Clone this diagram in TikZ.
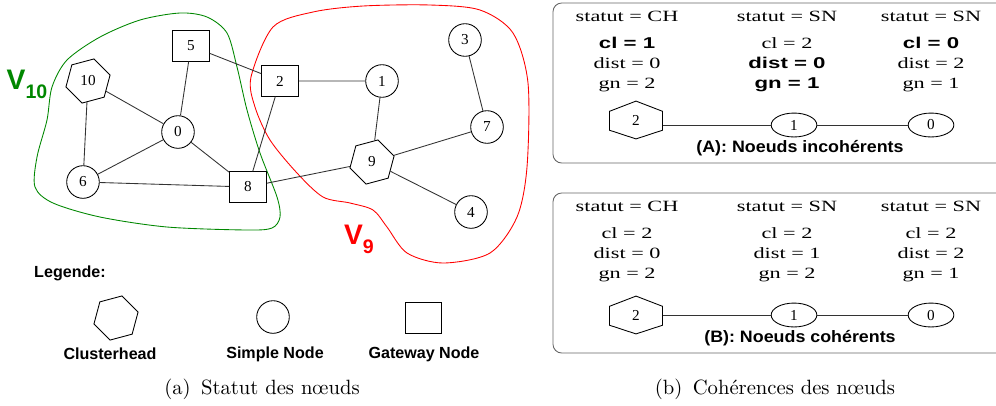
\documentclass[tikz,border=0pt]{standalone}
\usepackage{fontspec}
\newfontfamily\timesfont{Liberation Serif}
\newfontfamily\arialfont{Liberation Sans}
\usetikzlibrary{shapes.geometric,calc}

\definecolor{vgreen}{RGB}{0,135,0}

\tikzset{
  lbl/.style={font=\timesfont\fontsize{7}{8}\selectfont},
  simple/.style={circle,draw,fill=white,minimum size=15pt,inner sep=0pt,lbl},
  gateway/.style={rectangle,draw,fill=white,minimum width=17pt,minimum height=14pt,inner sep=0pt,lbl},
  clusterhead/.style={regular polygon,regular polygon sides=6,shape border rotate=15,draw,fill=white,minimum size=21pt,inner sep=0pt,lbl},
  link/.style={draw=black!80},
  panel/.style={draw=black!60,rounded corners=4pt},
  val/.style={anchor=base,font=\timesfont\fontsize{7.2}{9}\selectfont},
  valb/.style={anchor=base,font=\arialfont\bfseries\fontsize{7.2}{9}\selectfont},
  elnode/.style={ellipse,draw,minimum width=21pt,minimum height=11pt,inner sep=0pt,lbl},
  hexbox/.style={minimum width=24pt,minimum height=17pt,inner sep=0pt,lbl},
  legendtxt/.style={font=\arialfont\bfseries\fontsize{7.4}{9}\selectfont},
  paneltitle/.style={font=\arialfont\bfseries\fontsize{7.6}{9}\selectfont},
  caption/.style={font=\fontsize{9.5}{11}\selectfont}
}

% panel texts are stretched sideways
\newcommand\wide[1]{\scalebox{1.42}[1]{#1}}

% stretched hexagon drawn round a box node
\newcommand\flathex[1]{%
  \draw (#1.north) -- ($(#1.north east)!0.27!(#1.south east)$)
    -- ($(#1.north east)!0.77!(#1.south east)$) -- (#1.south)
    -- ($(#1.north west)!0.77!(#1.south west)$)
    -- ($(#1.north west)!0.27!(#1.south west)$) -- cycle;}

\begin{document}
\begin{tikzpicture}[x=0.46pt,y=-0.46pt]
  \useasboundingbox (0,0) rectangle (996,405);

  % clusters
  \draw[vgreen] plot[smooth cycle] coordinates {(180,13) (207,17) (227,33) (237,67)
    (247,110) (260,153) (277,197) (280,217) (272,228) (247,230) (167,227) (100,217)
    (53,203) (35,187) (37,157) (47,120) (52,87) (67,60) (100,37) (140,20)};
  \draw[red] plot[smooth cycle] coordinates {(251,77) (273,27) (313,12) (363,6)
    (430,5) (480,10) (513,33) (528,83) (527,167) (517,217) (490,253) (443,263)
    (407,253) (387,227) (373,210) (350,203) (323,197) (297,173) (270,140) (255,107)};
  \node[text=vgreen,font=\arialfont\bfseries] (v10) at (27,84)
    {\fontsize{13}{14}\selectfont V\raisebox{-0.6ex}{\fontsize{9}{10}\selectfont 10}};
  \node[text=red,font=\arialfont\bfseries] (v9) at (359,239)
    {\fontsize{13}{14}\selectfont V\raisebox{-0.6ex}{\fontsize{9}{10}\selectfont 9}};

  % graph
  \node[simple] (n0) at (178,132) {0};
  \node[simple] (n1) at (382,81) {1};
  \node[gateway] (n2) at (280,81) {2};
  \node[simple] (n3) at (465,40) {3};
  \node[simple] (n4) at (471,212) {4};
  \node[gateway] (n5) at (191,46) {5};
  \node[simple] (n6) at (83,182) {6};
  \node[simple] (n7) at (487,127) {7};
  \node[gateway] (n8) at (248,187) {8};
  \node[clusterhead] (n9) at (372,162) {9};
  \node[clusterhead] (n10) at (88,81) {10};
  \draw[link] (n5) -- (n0) (n5) -- (n2) (n10) -- (n0) (n10) -- (n6)
    (n0) -- (n6) (n0) -- (n8) (n6) -- (n8) (n2) -- (n8) (n2) -- (n1)
    (n8) -- (n9) (n1) -- (n9) (n9) -- (n7) (n9) -- (n4) (n3) -- (n7);

  % legend
  \node[legendtxt] (leg) at (70,273) {Legende:};
  \node[clusterhead] (lgch) at (116,318) {};
  \node[simple] (lgsn) at (273,317) {};
  \node[gateway,minimum width=16.5pt] (lggw) at (423,318) {};
  \node[legendtxt] (lgcht) at (110,354) {Clusterhead};
  \node[legendtxt] (lgsnt) at (275,354) {Simple Node};
  \node[legendtxt] (lggwt) at (424,354) {Gateway Node};
  \node[caption] (capa) at (262,389) {(a)\enspace Statut des nœuds};

  % panel A
  \draw[panel] (996,3) -- (553,3) -- (553,163) -- (996,163);
  \node[val] (a11) at (627,21) {\wide{statut = CH}};
  \node[valb] (a12) at (627,48) {\wide{cl = 1}};
  \node[val] (a13) at (627,68) {\wide{dist = 0}};
  \node[val] (a14) at (627,88) {\wide{gn = 2}};
  \node[val] (a21) at (787,21) {\wide{statut = SN}};
  \node[val] (a22) at (787,48) {\wide{cl = 2}};
  \node[valb] (a23) at (787,68) {\wide{dist = 0}};
  \node[valb] (a24) at (787,88) {\wide{gn = 1}};
  \node[val] (a31) at (931,21) {\wide{statut = SN}};
  \node[valb] (a32) at (931,48) {\wide{cl = 0}};
  \node[val] (a33) at (931,68) {\wide{dist = 2}};
  \node[val] (a34) at (931,88) {\wide{gn = 1}};
  \node[hexbox] (ha) at (636,120) {2};
  \flathex{ha}
  \node[elnode] (e1a) at (794,125) {1};
  \node[elnode] (e0a) at (931,125) {0};
  \draw[link] (e1a -| ha.east) -- (e1a) -- (e0a);
  \node[paneltitle] (tta) at (800,148) {\scalebox{1.08}[1]{(A): Noeuds incohérents}};

  % panel B
  \draw[panel] (996,193) -- (553,193) -- (553,353) -- (996,353);
  \node[val] (b11) at (627,211) {\wide{statut = CH}};
  \node[val] (b12) at (627,238) {\wide{cl = 2}};
  \node[val] (b13) at (627,258) {\wide{dist = 0}};
  \node[val] (b14) at (627,278) {\wide{gn = 2}};
  \node[val] (b21) at (787,211) {\wide{statut = SN}};
  \node[val] (b22) at (787,238) {\wide{cl = 2}};
  \node[val] (b23) at (787,258) {\wide{dist = 1}};
  \node[val] (b24) at (787,278) {\wide{gn = 2}};
  \node[val] (b31) at (931,211) {\wide{statut = SN}};
  \node[val] (b32) at (931,238) {\wide{cl = 2}};
  \node[val] (b33) at (931,258) {\wide{dist = 2}};
  \node[val] (b34) at (931,278) {\wide{gn = 1}};
  \node[hexbox] (hb) at (636,315) {2};
  \flathex{hb}
  \node[elnode] (e1b) at (794,315) {1};
  \node[elnode] (e0b) at (931,315) {0};
  \draw[link] (hb) -- (e1b) -- (e0b);
  \node[paneltitle] (ttb) at (800,338) {\scalebox{1.08}[1]{(B): Noeuds cohérents}};
  \node[caption] (capb) at (775,389) {(b)\enspace Cohérences des nœuds};
\end{tikzpicture}
\end{document}
